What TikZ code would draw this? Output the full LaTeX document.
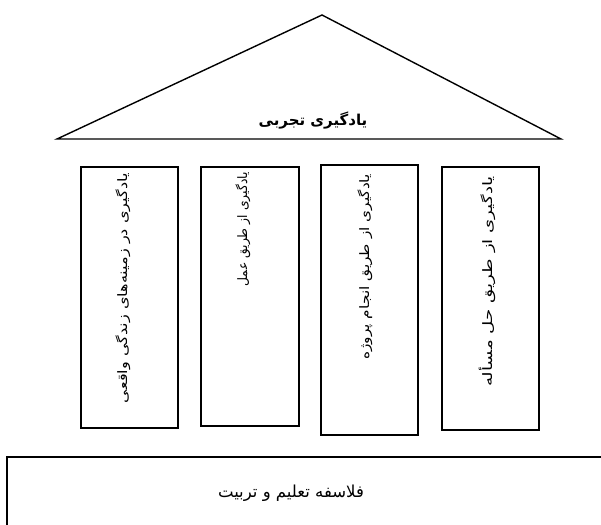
\documentclass[tikz,border=0pt]{standalone}
\usepackage{fontspec}
\usepackage{graphicx}
\TeXXeTstate=1
\newfontfamily\arabicfont[Script=Arabic]{DejaVu Sans}
\tikzset{
  frame/.style={draw=black, line width=1.5pt, fill=white},
  roof/.style={draw=black, line width=1.4pt, line join=miter, fill=white},
  pillartext/.style={rotate=90, anchor=east, inner sep=0pt, font=\arabicfont\fontsize{13}{15}\selectfont},
}
\begin{document}
\begin{tikzpicture}[x=1pt,y=-1pt]
\useasboundingbox[fill=white] (0,0) rectangle (601,524);
% roof
\coordinate (apex) at (322,15);
\coordinate (bl) at (57,139);
\coordinate (br) at (561,139);
\draw[roof] (apex) -- (br) -- (bl) -- cycle;
\begin{scope}
\clip (200,100) rectangle (420,129);
\node[inner sep=0pt, anchor=base, font=\arabicfont\bfseries\fontsize{15}{17}\selectfont] (rooftext) at (313,125) {\beginR یادگیری تجربی\endR};
\end{scope}
% pillars
\node[frame, minimum width=97pt, minimum height=261pt, anchor=north west] (p1) at (80,166) {};
\node[frame, minimum width=98pt, minimum height=259pt, anchor=north west] (p2) at (200,166) {};
\node[frame, minimum width=97pt, minimum height=270pt, anchor=north west] (p3) at (320,164) {};
\node[frame, minimum width=97pt, minimum height=263pt, anchor=north west] (p4) at (441,166) {};
\node[pillartext] (t1) at (123,173) {\scalebox{1.24}[1]{\beginR یادگیری در زمینه‌های زندگی واقعی\endR}};
\node[pillartext] (t2) at (243,172) {\scalebox{0.95}[1]{\beginR یادگیری از طریق عمل\endR}};
\node[pillartext] (t3) at (365,174) {\scalebox{1.18}[1]{\beginR یادگیری از طریق انجام پروژه\endR}};
\node[pillartext] (t4) at (487,176) {\scalebox{1.4}[1]{\beginR یادگیری از طریق حل مسأله\endR}};
% base
\draw[line width=1.5pt] (602,457) -- (7,457) -- (7,525);
\node[inner sep=0pt, font=\arabicfont\fontsize{16.5}{19}\selectfont] (basetext) at (291,493) {\beginR فلاسفه تعلیم و تربیت\endR};
\end{tikzpicture}
\end{document}
